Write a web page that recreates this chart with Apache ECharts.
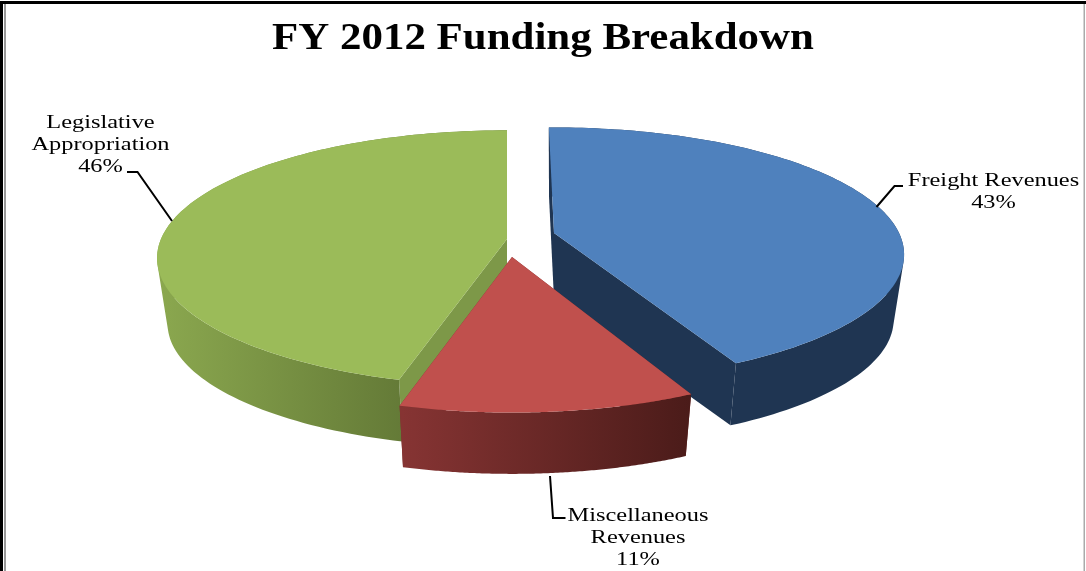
<!DOCTYPE html>
<html><head><meta charset="utf-8">
<style>html,body{margin:0;padding:0;background:#fff}#c{width:1086px;height:571px}</style>
<script src="https://cdn.jsdelivr.net/npm/echarts@6/dist/echarts.min.js"></script>
</head><body><div id="c"></div>
<script>
const titleText = 'FY 2012 Funding Breakdown';
const categories = ['Freight Revenues', 'Miscellaneous\nRevenues', 'Legislative\nAppropriation'];
const values = [42.9, 11.4, 45.7];

// projection of the tilted disc, slightly different per exploded slice
const DEPTH = 66, SHRINK = 0.97, START = 91;
const serif = '"Liberation Serif","Times New Roman",serif';
const sliceStyle = [
  {apex:[554,233], A:345, B:123.5, P:0.17, rot:0,  top:'#4F81BD', wall:'#1F3552', side:['#1F3552','#1F3552'], z:20, gx:[548,904]},
  {apex:[512,257], A:344, B:126,   P:0.19, rot:-1, top:'#C0504D', wall:'#7A2F2D', side:['#863433','#4A1B19'], z:30, gx:[402,694]},
  {apex:[507,239], A:346, B:125,   P:0.15, rot:-1, top:'#9BBB59', wall:'#7D9848', side:['#8BA84F','#647A37'], z:10, gx:[157,403]}
];
const labelLayout = [
  {cx:993.5, y:181, leader:[[903,186],[894.5,186],[876.5,207]]},
  {cx:638, y:516, leader:[[550,476],[553,518],[565.5,518]]},
  {cx:100.5, y:123, leader:[[127,172],[137.5,172],[172,221]]}
];
const LH = 21.7, LABEL_SIZE = 19.5, LABEL_SX = 1.25;

// one path holding every wall quad, wound alike, so the fill has no seams
echarts.graphic.registerShape('wallStrip', echarts.graphic.extendShape({
  shape:{up:[],lo:[]},
  buildPath(ctx, shape){
    const u=shape.up, l=shape.lo;
    for(let k=0;k<u.length-1;k++){
      let q=[u[k],u[k+1],l[k+1],l[k]], area=0;
      for(let m=0;m<4;m++){const a=q[m],b=q[(m+1)%4];area+=a[0]*b[1]-b[0]*a[1];}
      if(area<0) q=q.reverse();
      ctx.moveTo(q[0][0],q[0][1]);
      for(let m=1;m<4;m++) ctx.lineTo(q[m][0],q[m][1]);
      ctx.closePath();
    }
  }
}));

function rim(st, deg, lower){
  const t = deg*Math.PI/180, s = 1/(1+st.P*Math.sin(t));
  const dx = st.A*Math.cos(t)*s, dy = -st.B*Math.sin(t)*s;
  return lower ? [st.apex[0]+dx*SHRINK, st.apex[1]+dy*SHRINK+DEPTH] : [st.apex[0]+dx, st.apex[1]+dy];
}
function renderItem(params){
  const i = params.dataIndex, st = sliceStyle[i];
  const total = values.reduce((a,b)=>a+b,0);
  let before = 0; for(let k=0;k<i;k++) before += values[k];
  const a0 = START+st.rot-before/total*360, a1 = a0-values[i]/total*360;
  const up=[], lo=[];
  const n = 120;
  for(let k=0;k<=n;k++){ const d=a0+(a1-a0)*k/n; up.push(rim(st,d,false)); lo.push(rim(st,d,true)); }
  const ax = st.apex, axLow=[ax[0],ax[1]+DEPTH];
  const kids = [];
  const poly=(pts,fill,z)=>kids.push({type:'polygon',shape:{points:pts},style:{fill:fill},z2:z,silent:true});
  // cut faces
  poly([up[0],ax,axLow,lo[0]],st.wall,st.z);
  poly([up[n],ax,axLow,lo[n]],st.wall,st.z);
  // outer wall
  const grad = new echarts.graphic.LinearGradient(st.gx[0],0,st.gx[1],0,[{offset:0,color:st.side[0]},{offset:1,color:st.side[1]}],true);
  kids.push({type:'wallStrip',shape:{up:up,lo:lo},style:{fill:grad},z2:st.z+1,silent:true});
  // top face
  poly([ax].concat(up),st.top,st.z+2);
  // label
  const L = labelLayout[i];
  const lines = (categories[i]+'\n'+Math.round(values[i])+'%').split('\n');
  lines.forEach((tx,j)=>kids.push({type:'text',x:L.cx,y:L.y+j*LH,scaleX:LABEL_SX,z2:50,silent:true,
    style:{text:tx,x:0,y:0,align:'center',verticalAlign:'middle',fill:'#000',font:LABEL_SIZE+'px '+serif}}));
  kids.push({type:'polyline',shape:{points:L.leader},style:{stroke:'#000',lineWidth:2,fill:null},z2:50,silent:true});
  return {type:'group',children:kids};
}
const chart = echarts.init(document.getElementById('c'),null,{renderer:'canvas'});
chart.setOption({
  animation:false,
  backgroundColor:'#fff',
  series:[{type:'custom',coordinateSystem:'none',renderItem:renderItem,silent:true,
    data:values.map((v,i)=>({name:categories[i],value:v}))}],
  graphic:[
    {type:'text',x:543,y:39,scaleX:1.16,silent:true,style:{text:titleText,x:0,y:0,align:'center',verticalAlign:'middle',fill:'#000',font:'bold 37px '+serif}},
    {type:'rect',shape:{x:0,y:1,width:1086,height:3},style:{fill:'#000'},silent:true},
    {type:'rect',shape:{x:0,y:1,width:3,height:570},style:{fill:'#000'},silent:true},
    {type:'rect',shape:{x:4,y:4,width:2,height:567},style:{fill:'#999'},silent:true},
    {type:'rect',shape:{x:1083.5,y:4,width:1.5,height:567},style:{fill:'#aaa'},silent:true}
  ]
});
</script></body></html>
